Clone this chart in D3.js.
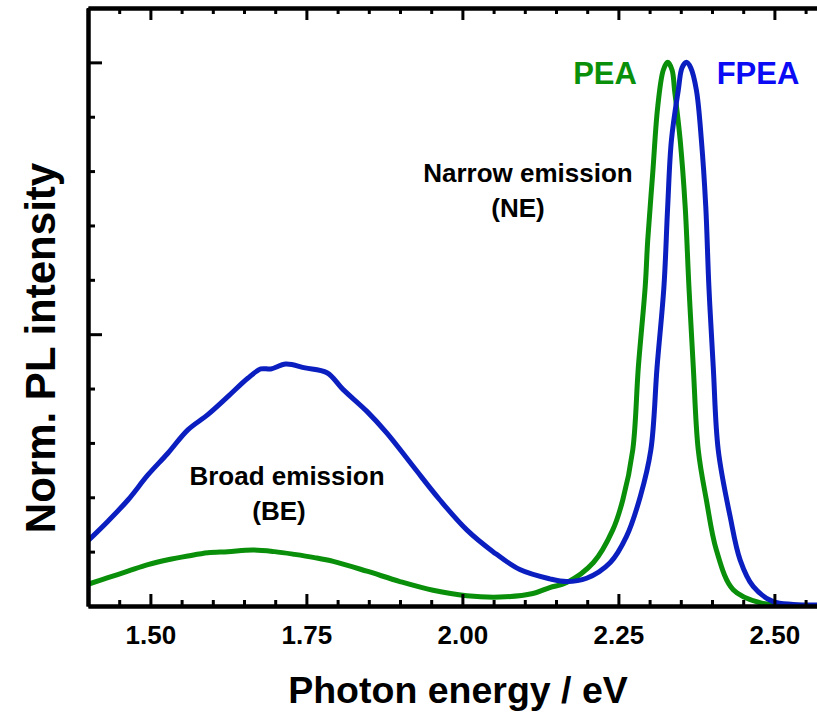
<!DOCTYPE html>
<html>
<head>
<meta charset="utf-8">
<script src="https://cdn.jsdelivr.net/npm/d3@7"></script>
<style>
  html, body { margin: 0; padding: 0; background: #fff; }
  svg { display: block; }
  text { font-family: "Liberation Sans", Arial, sans-serif; font-weight: bold; }
</style>
</head>
<body>
<svg id="chart" width="817" height="712"></svg>
<script>
// ---- data ----
const fpeaEnergy = [1.400,1.432,1.464,1.496,1.528,1.560,1.592,1.624,1.656,1.677,1.693,1.717,1.748,1.783,1.809,1.847,1.879,1.921,1.964,2.007,2.049,2.092,2.140,2.167,2.199,2.237,2.263,2.285,2.302,2.312,2.323,2.329,2.335,2.346,2.352,2.359,2.366,2.375,2.383,2.390,2.395,2.402,2.410,2.429,2.445,2.466,2.498,2.530,2.570];
const fpeaIntensity = [0.120,0.156,0.195,0.241,0.281,0.324,0.352,0.385,0.419,0.436,0.436,0.445,0.438,0.429,0.398,0.358,0.318,0.257,0.195,0.140,0.100,0.067,0.050,0.045,0.051,0.080,0.128,0.201,0.287,0.440,0.588,0.735,0.857,0.949,0.990,1.000,0.990,0.949,0.857,0.735,0.588,0.440,0.287,0.165,0.085,0.036,0.008,0.003,0.002];

const peaEnergy = [1.400,1.432,1.464,1.496,1.528,1.560,1.592,1.624,1.664,1.699,1.731,1.763,1.793,1.847,1.900,1.953,2.007,2.060,2.113,2.140,2.167,2.210,2.241,2.257,2.273,2.282,2.293,2.297,2.305,2.313,2.322,2.329,2.336,2.340,2.349,2.357,2.363,2.370,2.378,2.391,2.407,2.434,2.477,2.520,2.570];
const peaIntensity = [0.040,0.052,0.064,0.076,0.085,0.092,0.098,0.100,0.103,0.100,0.095,0.089,0.082,0.064,0.045,0.029,0.019,0.0165,0.023,0.034,0.043,0.080,0.140,0.195,0.287,0.440,0.588,0.673,0.796,0.918,0.986,1.000,0.986,0.949,0.857,0.735,0.588,0.440,0.287,0.195,0.103,0.030,0.006,0.002,0.001];

const xMajorTicks = [1.50, 1.75, 2.00, 2.25, 2.50];
const xTickLabels = ["1.50", "1.75", "2.00", "2.25", "2.50"];
const yMajorTicks = [0.5, 1.0];
const seriesNames = ["PEA", "FPEA"];

// ---- layout ----
const svg = d3.select("#chart");
const mLeft = 88, mTop = 8, mBottom = 606, mRight = 817;
const xMin = 1.40, xMax = 1.40 + (mRight - mLeft) / 624;

const x = d3.scaleLinear().domain([xMin, xMax]).range([mLeft, mRight]);
const y = d3.scaleLinear().domain([0, 1.1]).range([mBottom, mTop]);

const xMinor = d3.range(1.40, xMax, 0.05).map(v => +v.toFixed(2)).filter(v => !xMajorTicks.some(m => Math.abs(m - v) < 1e-6));
const yMinor = d3.range(0.1, 1.1, 0.1).map(v => +v.toFixed(2)).filter(v => !yMajorTicks.some(m => Math.abs(m - v) < 1e-6));

const green = "#0a8f0a", blue = "#0b1fc0";

// curves
const line = d3.line().x((d) => x(d[0])).y((d) => y(d[1])).curve(d3.curveCatmullRom.alpha(0.5));
svg.append("clipPath").attr("id", "clip").append("rect")
  .attr("x", mLeft).attr("y", mTop).attr("width", mRight - mLeft).attr("height", mBottom - mTop);
const plot = svg.append("g").attr("clip-path", "url(#clip)");

plot.append("path").datum(d3.zip(peaEnergy, peaIntensity))
  .attr("d", line).attr("fill", "none").attr("stroke", green).attr("stroke-width", 5).attr("stroke-linejoin", "round");
plot.append("path").datum(d3.zip(fpeaEnergy, fpeaIntensity))
  .attr("d", line).attr("fill", "none").attr("stroke", blue).attr("stroke-width", 5).attr("stroke-linejoin", "round");

// axes
function styleAxis(g, w) {
  g.selectAll(".domain").attr("stroke", "#000").attr("stroke-width", w);
  g.selectAll(".tick line").attr("stroke", "#000").attr("stroke-width", 3);
}
// bottom
const bMinor = svg.append("g").attr("transform", `translate(0,${mBottom})`)
  .call(d3.axisBottom(x).tickValues(xMinor).tickSize(-6).tickSizeOuter(0).tickFormat(""));
styleAxis(bMinor, 4);
const bMajor = svg.append("g").attr("transform", `translate(0,${mBottom})`)
  .call(d3.axisBottom(x).tickValues(xMajorTicks).tickSize(-12).tickSizeOuter(0).tickPadding(20)
    .tickFormat((d, i) => xTickLabels[i]));
styleAxis(bMajor, 4);
bMajor.selectAll(".tick text").attr("font-size", 26).attr("fill", "#000")
  .attr("font-family", "'Liberation Sans', Arial, sans-serif").attr("font-weight", "bold");
// top
const tMinor = svg.append("g").attr("transform", `translate(0,${mTop})`)
  .call(d3.axisTop(x).tickValues(xMinor).tickSize(-6).tickSizeOuter(0).tickFormat(""));
styleAxis(tMinor, 4);
const tMajor = svg.append("g").attr("transform", `translate(0,${mTop})`)
  .call(d3.axisTop(x).tickValues(xMajorTicks).tickSize(-12).tickSizeOuter(0).tickFormat(""));
styleAxis(tMajor, 4);
// left
const lMinor = svg.append("g").attr("transform", `translate(${mLeft},0)`)
  .call(d3.axisLeft(y).tickValues(yMinor).tickSize(-7).tickSizeOuter(0).tickFormat(""));
styleAxis(lMinor, 4);
const lMajor = svg.append("g").attr("transform", `translate(${mLeft},0)`)
  .call(d3.axisLeft(y).tickValues(yMajorTicks).tickSize(-14).tickSizeOuter(0).tickFormat(""));
styleAxis(lMajor, 4);

// axis titles
svg.append("text").attr("x", 458).attr("y", 703).attr("text-anchor", "middle")
  .attr("font-size", 37.5).attr("fill", "#000").text("Photon energy / eV");
svg.append("text").attr("transform", `translate(55,348) rotate(-90)`)
  .attr("text-anchor", "middle").attr("font-size", 42).attr("fill", "#000").text("Norm. PL intensity");

// annotations
svg.append("text").attr("x", 528).attr("y", 182).attr("text-anchor", "middle").attr("font-size", 26).attr("fill", "#000").text("Narrow emission");
svg.append("text").attr("x", 518).attr("y", 217).attr("text-anchor", "middle").attr("font-size", 26).attr("fill", "#000").text("(NE)");
svg.append("text").attr("x", 287).attr("y", 485).attr("text-anchor", "middle").attr("font-size", 26).attr("fill", "#000").text("Broad emission");
svg.append("text").attr("x", 279).attr("y", 520).attr("text-anchor", "middle").attr("font-size", 26).attr("fill", "#000").text("(BE)");

// series labels
svg.append("text").attr("x", 605).attr("y", 84).attr("text-anchor", "middle").attr("font-size", 31).attr("fill", green).text(seriesNames[0]);
svg.append("text").attr("x", 758).attr("y", 84).attr("text-anchor", "middle").attr("font-size", 31).attr("fill", "#0a0af5").text(seriesNames[1]);
</script>
</body>
</html>
